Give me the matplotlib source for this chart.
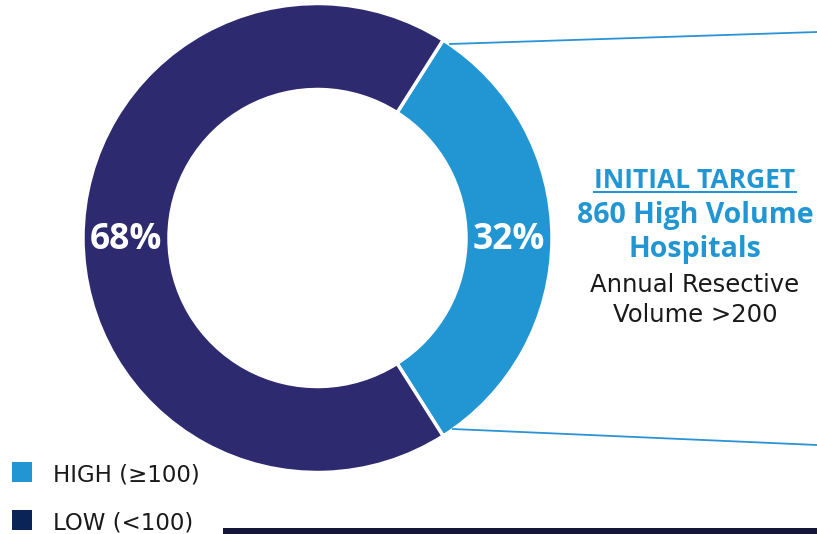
import matplotlib
matplotlib.use("Agg")
import matplotlib.pyplot as plt
from matplotlib.patches import Rectangle
from matplotlib.lines import Line2D

# Share of hospitals by annual resective volume
categories = ["HIGH (≥100)", "LOW (<100)"]
shares = [32, 68]
wedge_colors = ["#2196D3", "#2D2A70"]
legend_colors = ["#2196D3", "#0B2458"]

callout_title = "INITIAL TARGET"
callout_bold = ["860 High Volume", "Hospitals"]
callout_plain = ["Annual Resective", "Volume >200"]

W, H = 817, 534
fig = plt.figure(figsize=(W / 100, H / 100), dpi=100)
ax = fig.add_axes([0, 0, 1, 1])

def py(y):
    # convert a top-down pixel row to the axes' bottom-up y
    return H - y

cx, cy = 317.5, py(238)
R_out, ring = 234.5, 86.0
start = -shares[0] / 100 * 360 / 2

wedges, _, autotexts = ax.pie(
    shares, colors=wedge_colors, startangle=start, counterclock=True,
    center=(cx, cy), radius=R_out,
    autopct=lambda p: f"{p:.0f}%", pctdistance=(R_out - ring / 2) / R_out,
    wedgeprops=dict(width=ring, edgecolor="white", linewidth=2.5),
    textprops=dict(color="white", fontsize=25.5, fontweight="bold",
                   family=["Open Sans", "DejaVu Sans"]),
)
for t in autotexts:
    x, y = t.get_position()
    t.set_position((x, y - 2))

ax.set_xlim(0, W)
ax.set_ylim(0, H)
ax.set_aspect("equal")
ax.axis("off")

# leader lines from the blue segment to the callout
blue = "#2A93D5"
ax.add_line(Line2D([450, 817], [py(44), py(32)], color=blue, lw=1.3))
ax.add_line(Line2D([453, 817], [py(429), py(445)], color=blue, lw=1.3))

# callout text block
tx = 695
bold_font = ["Open Sans", "DejaVu Sans"]
t_title = ax.text(tx, py(188), callout_title, ha="center", va="baseline",
                  fontsize=19, fontweight="bold", color="#2196D3", family=bold_font)
for line, yb in zip(callout_bold, [223, 257]):
    ax.text(tx, py(yb), line, ha="center", va="baseline", fontsize=20.5,
            fontweight="bold", color="#2196D3", family=bold_font)
for line, yb in zip(callout_plain, [292, 322]):
    ax.text(tx, py(yb), line, ha="center", va="baseline", fontsize=17.5,
            color="#1A1A1A", family="DejaVu Sans")

# underline the callout title using its rendered extent
fig.canvas.draw()
bb = t_title.get_window_extent(fig.canvas.get_renderer())
ax.add_line(Line2D([bb.x0, bb.x1], [py(192), py(192)], color="#2196D3", lw=1.5))

# legend
for i, (label, col) in enumerate(zip(categories, legend_colors)):
    top = 462 + i * 48
    ax.add_patch(Rectangle((12, py(top + 20)), 20, 20, facecolor=col, edgecolor="none"))
    ax.text(53, py(top + 20), label, ha="left", va="baseline", fontsize=16.5,
            color="#1A1A1A", family="DejaVu Sans")

# footer rule
ax.add_patch(Rectangle((223, 0), W - 223, 6, facecolor="#15153A", edgecolor="none"))

fig.savefig("out.png", dpi=100)
